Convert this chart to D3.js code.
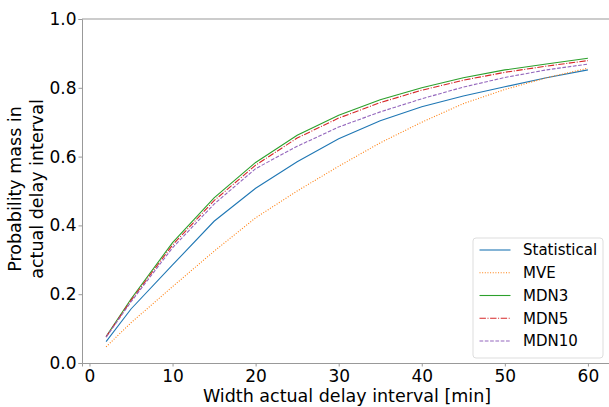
<!DOCTYPE html>
<html>
<head>
<style>
  body { margin: 0; background: #fff; }
  svg { font-family: "DejaVu Sans", sans-serif; }
</style>
</head>
<body>
<svg width="609" height="407"></svg>
<script src="https://cdn.jsdelivr.net/npm/d3@7"></script>
<script>
var widths = [2, 5, 10, 15, 20, 25, 30, 35, 40, 45, 50, 55, 60];
var statistical = [0.062, 0.157, 0.285, 0.412, 0.508, 0.585, 0.652, 0.704, 0.745, 0.776, 0.803, 0.829, 0.852];
var mve = [0.047, 0.117, 0.222, 0.325, 0.422, 0.500, 0.572, 0.640, 0.700, 0.754, 0.795, 0.829, 0.857];
var mdn3 = [0.077, 0.186, 0.350, 0.480, 0.583, 0.662, 0.720, 0.765, 0.800, 0.829, 0.852, 0.869, 0.886];
var mdn5 = [0.076, 0.182, 0.343, 0.472, 0.575, 0.654, 0.712, 0.757, 0.793, 0.822, 0.845, 0.863, 0.879];
var mdn10 = [0.075, 0.178, 0.335, 0.462, 0.565, 0.630, 0.686, 0.730, 0.768, 0.802, 0.830, 0.852, 0.869];
var xTicks = [0, 10, 20, 30, 40, 50, 60];
var yTicks = [0.0, 0.2, 0.4, 0.6, 0.8, 1.0];

var series = [
  { name: "Statistical", values: statistical, color: "#1f77b4", dash: null },
  { name: "MVE", values: mve, color: "#ff7f0e", dash: "1,1.65" },
  { name: "MDN3", values: mdn3, color: "#2ca02c", dash: null },
  { name: "MDN5", values: mdn5, color: "#d62728", dash: "6.4,1.6,1,1.6" },
  { name: "MDN10", values: mdn10, color: "#9467bd", dash: "3.7,1.6" }
];

var svg = d3.select("svg"),
    margin = { top: 19, right: -3, bottom: 44, left: 82 },
    width = +svg.attr("width") - margin.left - margin.right,
    height = +svg.attr("height") - margin.top - margin.bottom,
    g = svg.append("g").attr("transform", "translate(" + margin.left + "," + margin.top + ")");

var x = d3.scaleLinear().domain([-0.9, 62.9]).range([0, width]);
var y = d3.scaleLinear().domain([0, 1]).range([height, 0]);

var line = d3.line()
    .x(function (d, i) { return x(widths[i]); })
    .y(function (d) { return y(d); });

series.forEach(function (s) {
  g.append("path")
    .datum(s.values)
    .attr("fill", "none")
    .attr("stroke", s.color)
    .attr("stroke-width", 1.1)
    .attr("stroke-dasharray", s.dash)
    .attr("d", line);
});

var xAxis = g.append("g")
    .attr("transform", "translate(0," + height + ")")
    .call(d3.axisBottom(x).tickValues(xTicks).tickSize(3.5).tickPadding(3.5).tickFormat(d3.format("d")));
var yAxis = g.append("g")
    .call(d3.axisLeft(y).tickValues(yTicks).tickSize(3.5).tickPadding(2).tickFormat(d3.format(".1f")));

[xAxis, yAxis].forEach(function (a) {
  a.selectAll("text").attr("font-size", 17).attr("fill", "#000").attr("font-family", "DejaVu Sans");
  a.selectAll(".tick line").attr("stroke", "#999");
  a.select(".domain").attr("stroke", "#999");
});

// top and right spines
g.append("line").attr("x1", 0).attr("x2", width).attr("y1", 0).attr("y2", 0).attr("stroke", "#999");
g.append("line").attr("x1", width).attr("x2", width).attr("y1", 0).attr("y2", height).attr("stroke", "#999");

svg.append("text")
    .attr("x", margin.left + width / 2)
    .attr("y", 402)
    .attr("text-anchor", "middle")
    .attr("font-size", 17.5)
    .text("Width actual delay interval [min]");

var yl = svg.append("text")
    .attr("transform", "translate(20.7," + (margin.top + height / 2 - 2) + ") rotate(-90)")
    .attr("text-anchor", "middle")
    .attr("font-size", 17.5);
yl.append("tspan").attr("x", 0).attr("dy", 0).text("Probability mass in");
yl.append("tspan").attr("x", 0).attr("dy", 22.6).text("actual delay interval");

// legend
var lg = svg.append("g").attr("transform", "translate(473,238)");
lg.append("rect")
    .attr("width", 130).attr("height", 120)
    .attr("rx", 3)
    .attr("fill", "#fff").attr("fill-opacity", 0.8)
    .attr("stroke", "#ddd");
series.forEach(function (s, i) {
  var yy = 12 + i * 22.75;
  lg.append("line")
    .attr("x1", 6.5).attr("x2", 37.5).attr("y1", yy).attr("y2", yy)
    .attr("stroke", s.color).attr("stroke-width", 1.1)
    .attr("stroke-dasharray", s.dash);
  lg.append("text")
    .attr("x", 50).attr("y", yy).attr("dy", "0.36em")
    .attr("font-size", 15)
    .text(s.name);
});
</script>
</body>
</html>
